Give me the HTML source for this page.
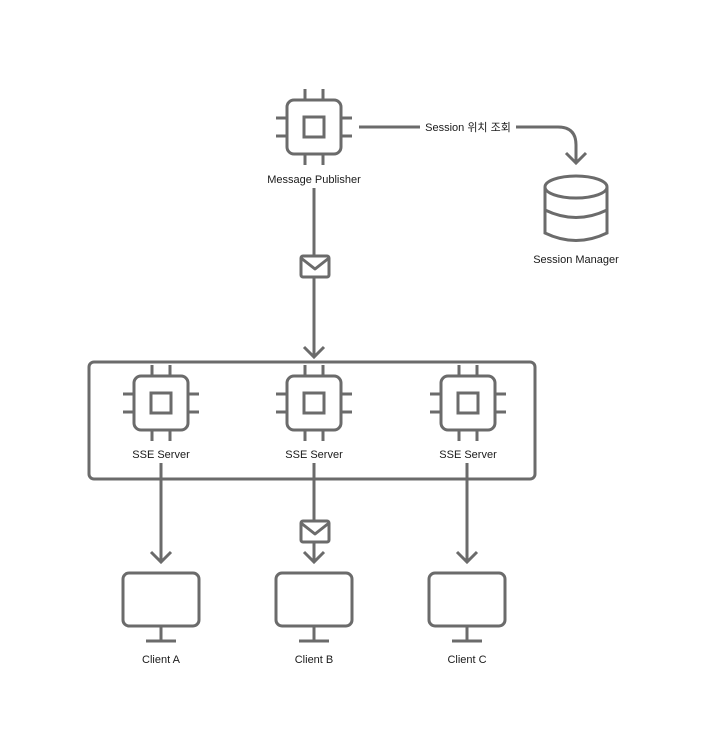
<!DOCTYPE html>
<html><head><meta charset="utf-8"><style>
html,body{margin:0;padding:0;background:#fff;}
svg{display:block;}
text{font-family:"Liberation Sans","Noto Sans CJK KR",sans-serif;font-size:11px;fill:#1a1a1a;text-anchor:middle;}
</style></head><body>
<svg width="708" height="750" viewBox="0 0 708 750" xmlns="http://www.w3.org/2000/svg">
<defs>
<g id="chip" fill="none" stroke="#6b6b6b" stroke-width="3" stroke-linecap="butt">
<rect x="-27" y="-27" width="54" height="54" rx="7"/>
<rect x="-10" y="-10" width="20" height="20"/>
<path d="M-9,-27V-38M9,-27V-38M-9,27V38M9,27V38M-27,-9H-38M-27,9H-38M27,-9H38M27,9H38"/>
</g>
<g id="env" fill="#fff" stroke="#6b6b6b" stroke-width="3" stroke-linejoin="round">
<rect x="-14" y="-10" width="28" height="21" rx="2"/>
<path d="M-14,-8L0,3L14,-8" fill="none"/>
</g>
<g id="mon" fill="none" stroke="#6b6b6b" stroke-width="3">
<rect x="-38" y="0" width="76" height="53" rx="6"/>
<path d="M0,53V68M-15,68H15"/>
</g>
</defs>
<g fill="none" stroke="#6b6b6b" stroke-width="3">
<!-- publisher to container -->
<path d="M314,188V357M304,347L314,357L324,347"/>
<!-- session lookup -->
<path d="M359,127H420M516,127H558Q576,127 576,145V163M566,153L576,163L586,153"/>
<!-- DB -->
<ellipse cx="576" cy="187" rx="31" ry="11"/>
<path d="M545,187V233Q576,248 607,233V187M545,210Q576,225 607,210"/>
<!-- container -->
<rect x="89" y="362" width="446" height="117" rx="5"/>
<!-- server to client lines -->
<path d="M161,463V562M151,552L161,562L171,552"/>
<path d="M314,463V562M304,552L314,562L324,552"/>
<path d="M467,463V562M457,552L467,562L477,552"/>
</g>
<use href="#chip" x="314" y="127"/>
<use href="#chip" x="161" y="403"/>
<use href="#chip" x="314" y="403"/>
<use href="#chip" x="468" y="403"/>
<use href="#env" x="315" y="266"/>
<use href="#env" x="315" y="531"/>
<use href="#mon" x="161" y="573"/>
<use href="#mon" x="314" y="573"/>
<use href="#mon" x="467" y="573"/>
<text x="314" y="183">Message Publisher</text>
<text x="468" y="131">Session 위치 조회</text>
<text x="576" y="263">Session Manager</text>
<text x="161" y="458">SSE Server</text>
<text x="314" y="458">SSE Server</text>
<text x="468" y="458">SSE Server</text>
<text x="161" y="663">Client A</text>
<text x="314" y="663">Client B</text>
<text x="467" y="663">Client C</text>
</svg>
</body></html>
